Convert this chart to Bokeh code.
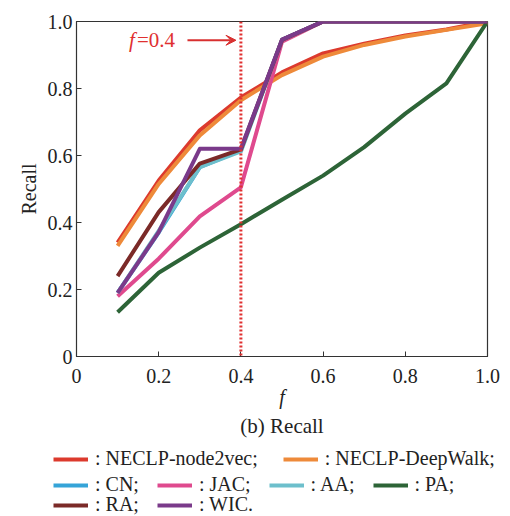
from bokeh.plotting import figure
from bokeh.models import (Range1d, FixedTicker, CustomJSTickFormatter, Span, Label,
                          Arrow, VeeHead, Legend, LegendItem, Title)
from bokeh.embed import file_html
from bokeh.resources import INLINE

# ---- data ----
f_vals = [0.1, 0.2, 0.3, 0.4, 0.5, 0.6, 0.7, 0.8, 0.9, 1.0]
neclp_node2vec = [0.34, 0.525, 0.675, 0.773, 0.848, 0.905, 0.934, 0.958, 0.976, 1.0]
neclp_deepwalk = [0.33, 0.515, 0.66, 0.765, 0.84, 0.895, 0.93, 0.955, 0.975, 0.995]
cn = [0.19, 0.37, 0.565, 0.615, 0.945, 1.0, 1.0, 1.0, 1.0, 1.0]
jac = [0.18, 0.292, 0.418, 0.505, 0.94, 1.0, 1.0, 1.0, 1.0, 1.0]
aa = [0.19, 0.375, 0.565, 0.612, 0.945, 1.0, 1.0, 1.0, 1.0, 1.0]
pa = [0.132, 0.25, 0.325, 0.395, 0.468, 0.54, 0.625, 0.725, 0.815, 1.0]
ra = [0.24, 0.431, 0.576, 0.618, 0.945, 1.0, 1.0, 1.0, 1.0, 1.0]
wic = [0.19, 0.371, 0.62, 0.62, 0.946, 1.0, 1.0, 1.0, 1.0, 1.0]

ticks = [0, 0.2, 0.4, 0.6, 0.8, 1.0]
f_mark = 0.4

series = [
    (": NECLP-node2vec;", neclp_node2vec, "#dc3a2d"),
    (": NECLP-DeepWalk;", neclp_deepwalk, "#ee8a3a"),
    (": CN;", cn, "#35a4d8"),
    (": JAC;", jac, "#df4a8e"),
    (": AA;", aa, "#6dbfcc"),
    (": PA;", pa, "#2d6437"),
    (": RA;", ra, "#7b2a28"),
    (": WIC.", wic, "#7a3a8a"),
]
legend_rows = [
    [": NECLP-node2vec;", ": NECLP-DeepWalk;"],
    [": CN;", ": JAC;", ": AA;", ": PA;"],
    [": RA;", ": WIC."],
]

FONT = "Liberation Serif"

p = figure(width=502, height=440, output_backend="svg", toolbar_location=None,
           x_range=Range1d(0, 1), y_range=Range1d(0, 1),
           min_border_left=76, min_border_right=15, min_border_top=21, min_border_bottom=84)
p.grid.visible = False
p.outline_line_color = "#333333"
p.outline_line_width = 1.2

fmt = CustomJSTickFormatter(code="return tick == 0 ? '0' : tick.toFixed(1);")
for ax in (p.xaxis[0], p.yaxis[0]):
    ax.ticker = FixedTicker(ticks=ticks)
    ax.formatter = fmt
    ax.major_tick_in = 5
    ax.major_tick_out = 0
    ax.minor_tick_line_color = None
    ax.axis_line_color = "#333333"
    ax.major_tick_line_color = "#333333"
    ax.major_label_text_font = FONT
    ax.major_label_text_font_size = "20px"
    ax.major_label_text_color = "#222222"
    ax.axis_label_text_font = FONT
    ax.axis_label_text_font_size = "20px"
    ax.axis_label_text_color = "#222222"

p.xaxis[0].axis_label = "f"
p.xaxis[0].axis_label_text_font_style = "italic"
p.xaxis[0].axis_label_standoff = 0
p.xaxis[0].major_label_standoff = 12
p.yaxis[0].axis_label = "Recall"
p.yaxis[0].axis_label_text_font_style = "normal"
p.yaxis[0].axis_label_standoff = 5
p.yaxis[0].major_label_standoff = 4

for label, ys, color in series:
    p.line(f_vals, ys, line_color=color, line_width=4, line_join="round")

# vertical dotted marker
p.add_layout(Span(location=f_mark, dimension="height", line_color="#e03030",
                  line_width=3, line_dash="2 2"))
p.add_layout(Arrow(end=VeeHead(size=10, fill_color="#d83030", line_color="#d83030"),
                   x_start=0.27, y_start=0.944, x_end=0.388, y_end=0.944,
                   line_color="#d83030", line_width=2))
p.add_layout(Label(x=f_mark, y=0.944, x_offset=-112, text="f", text_font=FONT,
                   text_font_style="italic", text_font_size="21px", text_color="#e03030",
                   text_baseline="middle"))
p.add_layout(Label(x=f_mark, y=0.944, x_offset=-104, text="=0.4", text_font=FONT,
                   text_font_size="21px", text_color="#e03030", text_baseline="middle"))

p.add_layout(Title(text="(b) Recall", align="center", text_font=FONT,
                   text_font_size="21px", text_font_style="normal",
                   text_color="#222222", standoff=2), "below")

# legend figure (its lines sit outside its visible y range; only legend glyphs show)
q = figure(width=508, height=76, output_backend="svg", toolbar_location=None,
           x_axis_location=None, y_axis_location=None,
           x_range=Range1d(0, 1), y_range=Range1d(5, 6),
           min_border=0, outline_line_color=None)
q.grid.visible = False
leg_r = {}
for label, ys, color in series:
    leg_r[label] = q.line(f_vals, ys, line_color=color, line_width=4)

row_bottoms = [46, 20, 0]
row_spacing = [25, 18, 18]
for row, yb, sp in zip(legend_rows, row_bottoms, row_spacing):
    leg = Legend(items=[LegendItem(label=l, renderers=[leg_r[l]]) for l in row],
                 orientation="horizontal", location=(53, yb),
                 border_line_alpha=0, background_fill_alpha=0,
                 padding=0, margin=0, spacing=sp, glyph_width=35, glyph_height=20,
                 label_height=20, label_standoff=7,
                 label_text_font=FONT, label_text_font_size="20px",
                 label_text_color="#222222")
    q.add_layout(leg)

open("out.html", "w").write(file_html([p, q], INLINE))
